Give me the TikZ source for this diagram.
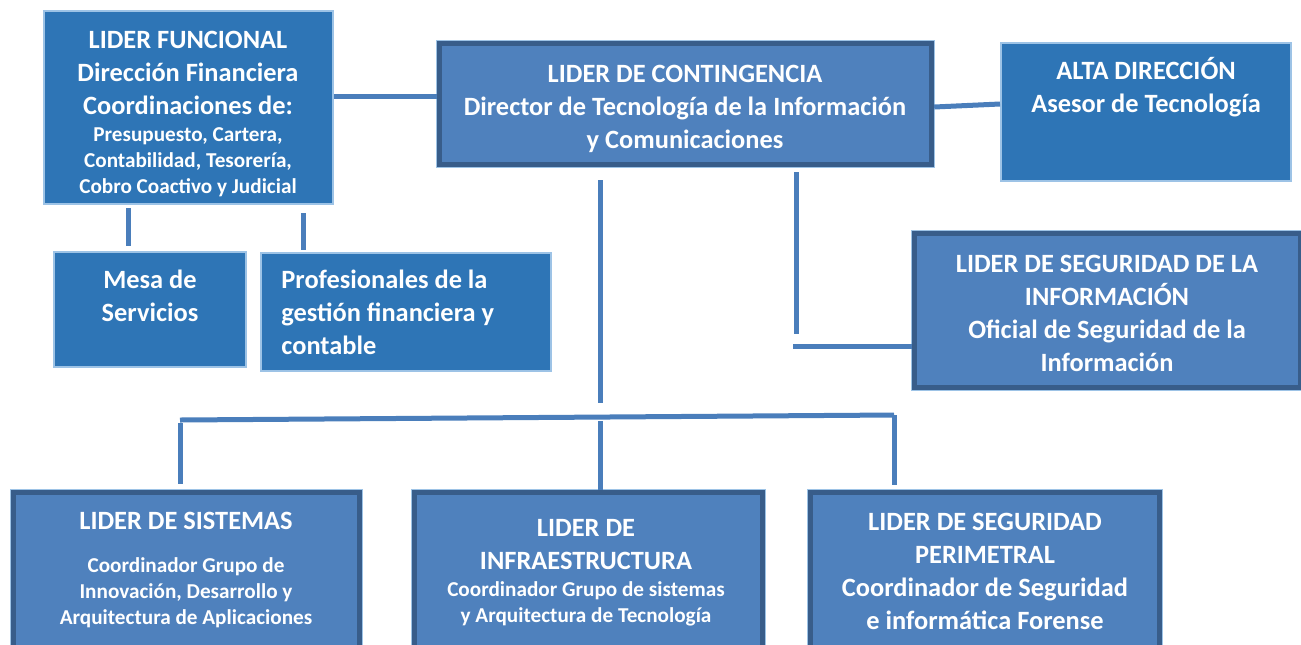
\documentclass[tikz,border=0pt]{standalone}
\usepackage{fontspec}
\setmainfont{Carlito}
\usetikzlibrary{positioning,calc,fit}

\definecolor{azulOscuro}{RGB}{46,117,182}
\definecolor{bordeClaro}{RGB}{157,195,230}
\definecolor{azulMedio}{RGB}{79,129,189}
\definecolor{bordeOscuro}{RGB}{56,93,138}
\definecolor{azulLinea}{RGB}{74,126,187}

\tikzset{
  cajaA/.style={draw=bordeClaro, line width=1pt, fill=azulOscuro, inner sep=-0.5pt},
  cajaB/.style={draw=bordeOscuro, line width=2.4pt, fill=azulMedio, inner sep=-1.6pt,
    preaction={draw=bordeClaro, line width=3.4pt}},
  grande/.style={text=white, font=\bfseries\fontsize{13.2}{16.5}\selectfont,
    align=center, inner sep=0pt, anchor=north},
  chico/.style={grande, font=\bfseries\fontsize{10.6}{13}\selectfont},
  conector/.style={draw=azulLinea, line width=2.5pt}
}

\begin{document}
\begin{tikzpicture}[x=0.5pt,y=-0.5pt]
        \useasboundingbox (0,0) rectangle (1301,644);

        %Cajas de arriba
        \node[cajaA, fit={(43,10) (334,205)}] (fun) {};
        \node[cajaA, fit={(53,251) (247,368)}] (mesa) {};
        \node[cajaA, fit={(260,252) (552,372)}] (prof) {};
        \node[cajaB, fit={(436,40) (935,168)}] (cont) {};
        \node[cajaA, fit={(1000,42) (1292,182)}] (alta) {};
        \node[cajaB, fit={(911,230) (1304,391)}] (seg) {};

        %Cajas de los lideres de abajo
        \node[cajaB, fit={(10,489) (363,652)}] (sis) {};
        \node[cajaB, fit={(411,489) (766,652)}] (infra) {};
        \node[cajaB, fit={(807,489) (1163,652)}] (peri) {};

        %Textos
        \node[grande] (tfun) at (188,31) {LIDER FUNCIONAL\\Dirección Financiera\\Coordinaciones de:};
        \node[chico] (tfun2) at (188,127) {Presupuesto, Cartera,\\Contabilidad, Tesorería,\\Cobro Coactivo y Judicial};
        \node[grande] (tmesa) at (150,270) {Mesa de\\Servicios};
        \node[grande, align=left, anchor=north west] (tprof) at (281,270) {Profesionales de la\\gestión financiera y\\contable};
        \node[grande] (tcont) at (685,65) {LIDER DE CONTINGENCIA\\Director de Tecnología de la Información\\y Comunicaciones};
        \node[grande] (talta) at (1146,57) {ALTA DIRECCIÓN\\Asesor de Tecnología};
        \node[grande] (tseg) at (1107,255) {LIDER DE SEGURIDAD DE LA\\INFORMACIÓN\\Oficial de Seguridad de la\\Información};

        \node[grande] (tsis) at (186,512) {LIDER DE SISTEMAS};
        \node[chico] (tsis2) at (186,557) {Coordinador Grupo de\\Innovación, Desarrollo y\\Arquitectura de Aplicaciones};
        \node[grande] (tinfra) at (586,519) {LIDER DE\\INFRAESTRUCTURA};
        \node[chico] (tinfra2) at (586,581) {Coordinador Grupo de sistemas\\y Arquitectura de Tecnología};
        \node[grande] (tperi) at (985,513) {LIDER DE SEGURIDAD\\PERIMETRAL\\Coordinador de Seguridad\\e informática Forense};

        %Lineas entre los lideres de arriba
        \draw[conector] (fun.east |- 0,96) -- (cont.west |- 0,96);
        \draw[conector] (cont.east |- 0,107) -- (alta.west |- 0,104);
        \draw[conector, shorten <=1.5pt, shorten >=2.5pt] (fun.south -| 128,0) -- (mesa.north -| 128,0);
        \draw[conector, shorten <=4pt, shorten >=1pt] (fun.south -| 303,0) -- (prof.north -| 303,0);

        %Linea hacia el lider de seguridad de la informacion
        \coordinate (codo) at (796,334);
        \draw[conector, shorten <=2.5pt] (cont.south -| codo) -- (codo);
        \draw[conector] (seg.west |- 0,346) -- ++(-119,0);

        %Tronco y barra hacia los lideres de abajo
        \coordinate (tronco) at (600,403);
        \coordinate (barraI) at (180,420);
        \coordinate (barraM) at (600,417);
        \coordinate (barraD) at (894,415);
        \draw[conector, shorten <=6.5pt] (cont.south -| tronco) -- (tronco);
        \draw[conector] (barraI) -- (barraD);
        \draw[conector, shorten <=1.5pt, shorten >=3pt] (barraI) -- (sis.north -| barraI);
        \draw[conector, shorten <=2pt] (barraM) -- (infra.north -| barraM);
        \draw[conector, shorten >=2.5pt] (barraD) -- (peri.north -| barraD);
    \end{tikzpicture}
\end{document}
